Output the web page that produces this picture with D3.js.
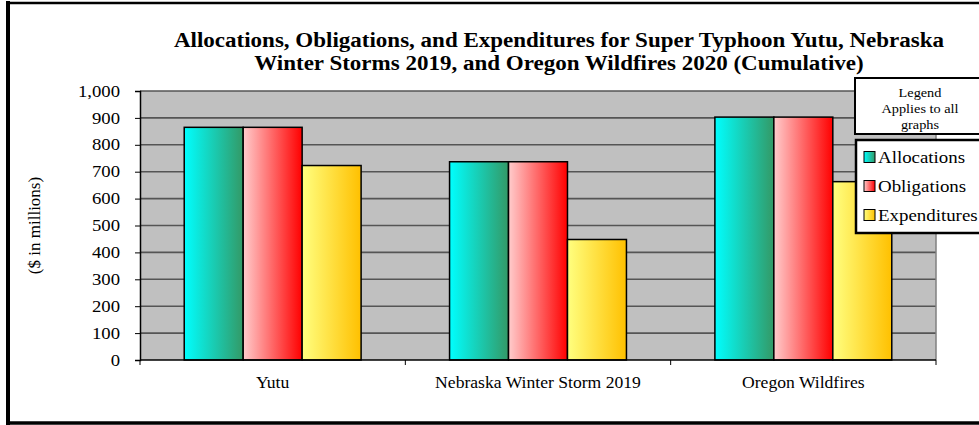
<!DOCTYPE html>
<html><head><meta charset="utf-8">
<script src="https://cdn.jsdelivr.net/npm/d3@7"></script>
<style>body{margin:0;background:#fff;overflow:hidden}svg{display:block}text{font-family:"Liberation Serif","Times New Roman",serif}</style>
</head><body>
<svg id="c" width="979" height="425"></svg>
<script>
const categories = ["Yutu", "Nebraska Winter Storm 2019", "Oregon Wildfires"];
const seriesNames = ["Allocations", "Obligations", "Expenditures"];
const allocations = [865, 737, 903];
const obligations = [865, 737, 903];
const expenditures = [723, 448, 663];
const yTicks = [0, 100, 200, 300, 400, 500, 600, 700, 800, 900, 1000];
const titleLines = ["Allocations, Obligations, and Expenditures for Super Typhoon Yutu, Nebraska",
                    "Winter Storms 2019, and Oregon Wildfires 2020 (Cumulative)"];
const legendTitle = ["Legend", "Applies to all", "graphs"];
const yLabel = "($ in millions)";

const seriesValues = [allocations, obligations, expenditures];
const gradStops = [["#00FFFF", "#339966"], ["#FFCCCC", "#FF0000"], ["#FFFF80", "#FFC000"]];

function stretch(sel, f) {
  sel.each(function () {
    const w = this.getComputedTextLength();
    this.setAttribute("textLength", w * f);
    this.setAttribute("lengthAdjust", "spacingAndGlyphs");
  });
}

const svg = d3.select("#c");
const defs = svg.append("defs");
gradStops.forEach((s, i) => {
  const g = defs.append("linearGradient").attr("id", "g" + i).attr("x1", "0").attr("x2", "1").attr("y1", "0").attr("y2", "0");
  g.append("stop").attr("offset", "0").attr("stop-color", s[0]);
  g.append("stop").attr("offset", "1").attr("stop-color", s[1]);
});

// outer frame
svg.append("line").attr("x1", 8).attr("x2", 8).attr("y1", 1).attr("y2", 425).attr("stroke", "#000").attr("stroke-width", 4);
svg.append("line").attr("x1", 6).attr("x2", 979).attr("y1", 3).attr("y2", 3).attr("stroke", "#000").attr("stroke-width", 2.5);
svg.append("line").attr("x1", 6).attr("x2", 979).attr("y1", 423).attr("y2", 423).attr("stroke", "#000").attr("stroke-width", 3.5);

const L = 140, R = 936, T = 91, B = 360;
const x = d3.scaleBand().domain(categories).range([L, R]).paddingInner(0).paddingOuter(0);
const x1 = d3.scaleBand().domain(seriesNames).range([0, x.bandwidth()]).paddingInner(0).paddingOuter(0.75);
const y = d3.scaleLinear().domain([0, 1000]).range([B, T]);

// plot background
svg.append("rect").attr("x", L).attr("y", T).attr("width", R - L).attr("height", B - T).attr("fill", "#C0C0C0");
// gridlines
svg.append("g").selectAll("line").data(yTicks.filter(d => d > 0)).join("line")
  .attr("x1", L).attr("x2", R).attr("y1", d => y(d)).attr("y2", d => y(d))
  .attr("stroke", "#555").attr("stroke-width", 1.6);
svg.append("line").attr("x1", R).attr("x2", R).attr("y1", T).attr("y2", B).attr("stroke", "#808080").attr("stroke-width", 1.5);

// bars
const groups = svg.append("g").selectAll("g").data(categories).join("g")
  .attr("transform", d => `translate(${x(d)},0)`);
groups.selectAll("rect").data((d, ci) => seriesNames.map((s, si) => ({s, si, v: seriesValues[si][ci]}))).join("rect")
  .attr("x", d => x1(d.s)).attr("width", x1.bandwidth())
  .attr("y", d => y(d.v)).attr("height", d => y(0) - y(d.v))
  .attr("fill", d => `url(#g${d.si})`).attr("stroke", "#000").attr("stroke-width", 1.5);

// y axis
const yAxis = d3.axisLeft(y).tickValues(yTicks).tickSize(5).tickPadding(15).tickFormat(d3.format(","));
const ya = svg.append("g").attr("transform", `translate(${L},0)`).call(yAxis);
ya.select(".domain").attr("stroke", "#000").attr("stroke-width", 1.5);
ya.selectAll(".tick line").attr("stroke", "#000");
ya.selectAll("text").attr("font-size", 16).attr("font-family", "Liberation Serif").attr("fill", "#000");
stretch(ya.selectAll("text"), 1.17);

// x axis
const xa = svg.append("g").attr("transform", `translate(0,${B})`);
xa.append("line").attr("x1", L).attr("x2", R).attr("stroke", "#000").attr("stroke-width", 1.5);
xa.selectAll("line.t").data(categories.map(c => x(c)).concat([R])).join("line").attr("class", "t")
  .attr("x1", d => d).attr("x2", d => d).attr("y1", 0).attr("y2", 5).attr("stroke", "#000");
const xt = xa.selectAll("text").data(categories).join("text")
  .attr("x", d => x(d) + x.bandwidth() / 2).attr("y", 28).attr("text-anchor", "middle")
  .attr("font-size", 16).text(d => d);
stretch(xt, 1.1);

// y label
svg.append("text").attr("transform", `translate(40,${(T + B) / 2}) rotate(-90)`).attr("text-anchor", "middle")
  .attr("font-size", 17).text(yLabel);

// title
const tt = svg.append("g").selectAll("text").data(titleLines).join("text")
  .attr("x", 559).attr("y", (d, i) => 47 + i * 23).attr("text-anchor", "middle")
  .attr("font-size", 20).attr("font-weight", "bold").text(d => d);
stretch(tt, 1.15);

// legend title box
svg.append("rect").attr("x", 855).attr("y", 78).attr("width", 140).attr("height", 56)
  .attr("fill", "#fff").attr("stroke", "#000").attr("stroke-width", 2);
const lt = svg.append("g").selectAll("text").data(legendTitle).join("text")
  .attr("x", 920).attr("y", (d, i) => 97 + i * 16).attr("text-anchor", "middle").attr("font-size", 13).text(d => d);
stretch(lt, 1.1);

// legend
svg.append("rect").attr("x", 856).attr("y", 140).attr("width", 140).attr("height", 93)
  .attr("fill", "#fff").attr("stroke", "#000").attr("stroke-width", 2.5);
const lg = svg.append("g").selectAll("g").data(seriesNames).join("g")
  .attr("transform", (d, i) => `translate(864,${157 + i * 29})`);
lg.append("rect").attr("x", 0).attr("y", -5.5).attr("width", 11).attr("height", 11)
  .attr("fill", (d, i) => `url(#g${i})`).attr("stroke", "#000").attr("stroke-width", 1);
const lgt = lg.append("text").attr("x", 14).attr("y", 5.5).attr("font-size", 16).text(d => d);
stretch(lgt, 1.18);
</script>
</body></html>
